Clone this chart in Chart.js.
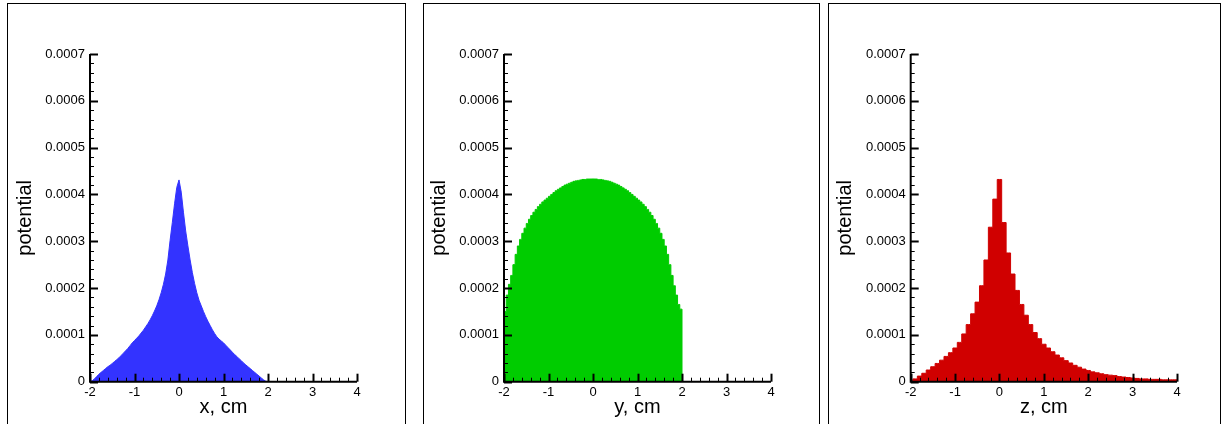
<!DOCTYPE html>
<html>
<head>
<meta charset="utf-8">
<script src="https://cdn.jsdelivr.net/npm/chart.js@4.4.1/dist/chart.umd.min.js"></script>
<style>
  body { margin: 0; background: #fff; width: 1225px; height: 424px; overflow: hidden; position: relative; }
  .panel { position: absolute; top: 3px; height: 440px; border: 1px solid #000; box-sizing: border-box; }
  canvas { position: absolute; top: 0; }
</style>
</head>
<body>
<div class="panel" style="left:7px;width:399px"></div>
<div class="panel" style="left:423px;width:397px"></div>
<div class="panel" style="left:828px;width:393px"></div>
<canvas id="chartX" width="399" height="424" style="left:7px"></canvas>
<canvas id="chartY" width="397" height="424" style="left:423px"></canvas>
<canvas id="chartZ" width="393" height="424" style="left:828px"></canvas>
<script>
// values are read in units of 1e-4
const UNIT = 1e-4;
const xMin = -2, xMax = 4;
const yMax = 0.0007;

// x profile: samples every 0.05 cm from -2 to 2
const blueStart = -2, blueStep = 0.05;
const blueValues = [
  0, 0.02, 0.06, 0.11, 0.16, 0.20, 0.24, 0.28, 0.32, 0.35,
  0.39, 0.43, 0.47, 0.51, 0.56, 0.61, 0.66, 0.71, 0.77, 0.83,
  0.88, 0.93, 0.98, 1.04, 1.10, 1.17, 1.24, 1.32, 1.41, 1.51,
  1.62, 1.75, 1.90, 2.08, 2.30, 2.60, 3.02, 3.40, 3.80, 4.15,
  4.31,
  4.05, 3.62, 3.22, 2.90, 2.60, 2.33, 2.10, 1.90, 1.74, 1.62,
  1.50, 1.39, 1.29, 1.20, 1.11, 1.03, 0.96, 0.91, 0.87, 0.83,
  0.78, 0.73, 0.68, 0.63, 0.58, 0.54, 0.49, 0.45, 0.40, 0.36,
  0.32, 0.28, 0.24, 0.20, 0.16, 0.12, 0.08, 0.04, 0.01, 0
];

// y profile: histogram, bins 0.05 cm wide from -2 to 2
const greenStart = -2, greenBin = 0.05;
const greenValues = [
  1.50, 1.85, 2.08, 2.27, 2.50, 2.72, 2.90, 3.04, 3.17, 3.28,
  3.38, 3.47, 3.55, 3.62, 3.68, 3.74, 3.79, 3.84, 3.88, 3.92,
  3.96, 4.00, 4.04, 4.08, 4.11, 4.14, 4.17, 4.20, 4.22, 4.24,
  4.26, 4.28, 4.29, 4.30, 4.31, 4.32, 4.32, 4.33, 4.33, 4.33,
  4.33, 4.33, 4.32, 4.32, 4.31, 4.30, 4.29, 4.28, 4.26, 4.24,
  4.22, 4.20, 4.17, 4.14, 4.11, 4.08, 4.04, 4.00, 3.96, 3.92,
  3.88, 3.84, 3.79, 3.74, 3.68, 3.62, 3.55, 3.47, 3.38, 3.28,
  3.17, 3.04, 2.90, 2.72, 2.50, 2.27, 2.05, 1.85, 1.65, 1.55
];

// z profile: histogram, bins 0.1 cm wide centred on -2 .. 4
const redStart = -2, redBin = 0.1;
const redValues = [
  0.02, 0.06, 0.12, 0.18, 0.25, 0.32, 0.39, 0.46, 0.54, 0.62,
  0.72, 0.84, 1.02, 1.22, 1.45, 1.70, 2.05, 2.60, 3.30, 3.90,
  4.32,
  3.40, 2.75, 2.30, 1.95, 1.65, 1.42, 1.22, 1.05, 0.92, 0.80,
  0.72, 0.64, 0.57, 0.51, 0.45, 0.40, 0.35, 0.31, 0.27, 0.24,
  0.21, 0.19, 0.17, 0.15, 0.14, 0.13, 0.11, 0.10, 0.09, 0.08,
  0.07, 0.06, 0.06, 0.05, 0.05, 0.05, 0.04, 0.04, 0.04, 0.04
];

const FONT = 'Arial, "Liberation Sans", sans-serif';

function smoothPoints(start, step, vals) {
  return vals.map((v, i) => ({ x: start + i * step, y: v * UNIT }));
}

function histPoints(start, bin, vals) {
  // bin centres, plus the outer edges so the first/last bins are full width
  const pts = vals.map((v, i) => ({ x: start + (i + 0.5) * bin, y: v * UNIT }));
  const end = start + vals.length * bin;
  return [{ x: start, y: vals[0] * UNIT }, ...pts, { x: end, y: vals[vals.length - 1] * UNIT }, { x: end, y: 0 }];
}

function centredPoints(start, bin, vals) {
  return vals.map((v, i) => ({ x: start + i * bin, y: v * UNIT }));
}

// tecplot-style inward ticks and heavy axis lines
const axesPlugin = {
  id: 'axes',
  afterDatasetsDraw(chart) {
    const { ctx, chartArea: a, scales: { x, y } } = chart;
    ctx.save();
    ctx.strokeStyle = '#000';
    for (let i = 0; i <= 35; i++) {
      const py = Math.round(y.getPixelForValue(i * 0.00002)) + 0.5;
      const major = i % 5 === 0;
      ctx.lineWidth = major ? 2 : 1;
      ctx.beginPath();
      ctx.moveTo(a.left, py);
      ctx.lineTo(a.left + (major ? 8 : 4), py);
      ctx.stroke();
    }
    for (let i = 0; i <= 30; i++) {
      const px = Math.round(x.getPixelForValue(xMin + i * 0.2)) + 0.5;
      const major = i % 5 === 0;
      ctx.lineWidth = major ? 2 : 1;
      ctx.beginPath();
      ctx.moveTo(px, a.bottom);
      ctx.lineTo(px, a.bottom - (major ? 8 : 4));
      ctx.stroke();
    }
    ctx.lineWidth = 2;
    ctx.beginPath();
    ctx.moveTo(a.left, a.top);
    ctx.lineTo(a.left, a.bottom);
    ctx.lineTo(a.right, a.bottom);
    ctx.stroke();
    ctx.restore();
  }
};

function makeChart(id, cfg) {
  new Chart(document.getElementById(id), {
    type: 'line',
    data: {
      datasets: [{
        data: cfg.points,
        stepped: cfg.stepped,
        fill: 'origin',
        backgroundColor: cfg.color,
        borderColor: cfg.color,
        borderWidth: 1,
        pointRadius: 0,
        tension: 0
      }]
    },
    options: {
      responsive: false,
      animation: false,
      events: [],
      layout: { padding: { left: 0, top: 54, right: cfg.padRight, bottom: 0 } },
      plugins: { legend: { display: false }, tooltip: { enabled: false } },
      scales: {
        x: {
          type: 'linear',
          min: xMin,
          max: xMax,
          afterFit: s => { s.height = 42.3; },
          grid: { display: false, drawTicks: false },
          border: { display: false },
          ticks: {
            stepSize: 1,
            padding: 3,
            maxRotation: 0,
            color: '#000',
            font: { family: FONT, size: 13 },
            callback: v => String(Math.round(v))
          },
          title: {
            display: true,
            text: cfg.xTitle,
            color: '#000',
            font: { family: FONT, size: 20 },
            padding: { top: 0, bottom: 5 }
          }
        },
        y: {
          min: 0,
          max: yMax,
          afterFit: s => { s.width = cfg.chartLeft; },
          grid: { display: false, drawTicks: false },
          border: { display: false },
          ticks: {
            stepSize: 0.0001,
            padding: 5,
            color: '#000',
            font: { family: FONT, size: 13 },
            callback: v => v === 0 ? '0' : v.toFixed(4)
          },
          title: {
            display: true,
            text: 'potential',
            color: '#000',
            font: { family: FONT, size: 20 },
            padding: { top: cfg.titlePad, bottom: 0 }
          }
        }
      }
    },
    plugins: [axesPlugin]
  });
}

makeChart('chartX', {
  points: smoothPoints(blueStart, blueStep, blueValues),
  stepped: false, color: '#3333ff', xTitle: 'x, cm',
  chartLeft: 83, padRight: 49, titlePad: 6
});
makeChart('chartY', {
  points: histPoints(greenStart, greenBin, greenValues),
  stepped: 'middle', color: '#00cc00', xTitle: 'y, cm',
  chartLeft: 81, padRight: 49, titlePad: 4
});
makeChart('chartZ', {
  points: centredPoints(redStart, redBin, redValues),
  stepped: 'middle', color: '#d00000', xTitle: 'z, cm',
  chartLeft: 82.7, padRight: 44, titlePad: 5
});
</script>
</body>
</html>
